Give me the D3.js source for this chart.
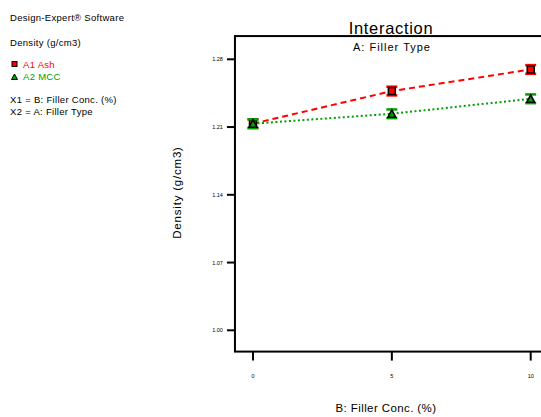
<!DOCTYPE html>
<html>
<head>
<meta charset="utf-8">
<style>
  body { margin: 0; background: #fff; }
  svg { font-family: "Liberation Sans", Arial, sans-serif; }
</style>
</head>
<body>
<script src="https://cdn.jsdelivr.net/npm/d3@7/dist/d3.min.js"></script>
<script>
  const levels = [0, 5, 10];
  const ash = [1.2135, 1.2472, 1.2695];
  const mcc = [1.2135, 1.2237, 1.2392];
  const errAsh = [0.0045, 0.0045, 0.0045];
  const errMcc = [0.0045, 0.0045, 0.0045];
  const yTicks = [1.00, 1.07, 1.14, 1.21, 1.28];
  const xTicks = [0, 5, 10];

  const width = 541, height = 417;
  const svg = d3.select("body").append("svg")
    .attr("width", width).attr("height", height);

  // scales (frame edges are slightly outside the data range)
  const x = d3.scaleLinear().domain([0, 10]).range([253, 530.7]);
  const y = d3.scaleLinear().domain([1.00, 1.28]).range([330.3, 59.3]);

  const fLeft = x(-0.65), fRight = x(10.65), fTop = y(1.304), fBottom = y(0.978);

  // left info panel
  const info = svg.append("g").attr("font-size", "9.5px").attr("letter-spacing", "0.3px");
  info.append("text").attr("x", 10).attr("y", 20.5).text("Design-Expert\u00ae Software");
  info.append("text").attr("x", 10).attr("y", 45.5).text("Density (g/cm3)");
  info.append("rect").attr("x", 12).attr("y", 61.5).attr("width", 5).attr("height", 5)
    .attr("fill", "red").attr("stroke", "#000").attr("stroke-width", 1);
  info.append("text").attr("x", 23).attr("y", 67.5).attr("fill", "red").text("A1 Ash");
  info.append("path").attr("d", "M14.5,74 L17.5,79.5 L11.5,79.5 Z")
    .attr("fill", "#00a000").attr("stroke", "#000").attr("stroke-width", 1);
  info.append("text").attr("x", 23).attr("y", 80).attr("fill", "#00a000").text("A2 MCC");
  info.append("text").attr("x", 10).attr("y", 102.5).text("X1 = B: Filler Conc. (%)");
  info.append("text").attr("x", 10).attr("y", 114.5).text("X2 = A: Filler Type");

  // frame
  svg.append("rect")
    .attr("x", fLeft).attr("y", fTop)
    .attr("width", fRight - fLeft).attr("height", fBottom - fTop)
    .attr("fill", "none").attr("stroke", "#000").attr("stroke-width", 2);

  // y axis ticks
  const ya = svg.append("g");
  ya.selectAll("line").data(yTicks).enter().append("line")
    .attr("x1", fLeft - 8).attr("x2", fLeft)
    .attr("y1", d => y(d)).attr("y2", d => y(d))
    .attr("stroke", "#000").attr("stroke-width", 2);
  ya.selectAll("text").data(yTicks).enter().append("text")
    .attr("x", fLeft - 12).attr("y", d => y(d) + 2)
    .attr("text-anchor", "end").attr("font-size", "5.5px")
    .text(d => d.toFixed(2));

  // x axis ticks
  const xa = svg.append("g");
  xa.selectAll("line").data(xTicks).enter().append("line")
    .attr("x1", d => x(d)).attr("x2", d => x(d))
    .attr("y1", fBottom).attr("y2", fBottom + 9)
    .attr("stroke", "#000").attr("stroke-width", 2);
  xa.selectAll("text").data(xTicks).enter().append("text")
    .attr("x", d => x(d)).attr("y", fBottom + 26.5)
    .attr("text-anchor", "middle").attr("font-size", "5.5px")
    .text(d => d);

  // titles
  svg.append("text").attr("x", 391).attr("y", 33.5).attr("text-anchor", "middle")
    .attr("font-size", "16.5px").attr("letter-spacing", "0.7px").text("Interaction");
  svg.append("text").attr("x", 392).attr("y", 50.5).attr("text-anchor", "middle")
    .attr("font-size", "11px").attr("letter-spacing", "1px").text("A: Filler Type");
  svg.append("text").attr("x", 386).attr("y", 412).attr("text-anchor", "middle")
    .attr("font-size", "11.5px").attr("letter-spacing", "0.4px").text("B: Filler Conc. (%)");
  svg.append("text").attr("transform", "translate(181,192.5) rotate(-90)")
    .attr("text-anchor", "middle").attr("font-size", "11.5px").attr("letter-spacing", "0.8px")
    .text("Density (g/cm3)");

  const series = [
    { name: "A1 Ash", vals: ash, err: errAsh, color: "red", dash: "6,4", shape: "square" },
    { name: "A2 MCC", vals: mcc, err: errMcc, color: "#00a000", dash: "2,2.5", shape: "triangle" }
  ];

  const line = d3.line().x(d => x(d[0])).y(d => y(d[1]));

  series.forEach(s => {
    const pts = levels.map((l, i) => [l, s.vals[i], s.err[i]]);
    const g = svg.append("g");
    g.append("path").datum(pts).attr("d", line)
      .attr("fill", "none").attr("stroke", s.color)
      .attr("stroke-width", 2).attr("stroke-dasharray", s.dash);

    // error bars
    g.selectAll("line.v").data(pts).enter().append("line")
      .attr("x1", d => x(d[0])).attr("x2", d => x(d[0]))
      .attr("y1", d => y(d[1] - d[2])).attr("y2", d => y(d[1] + d[2]))
      .attr("stroke", s.color).attr("stroke-width", 2);
    [1, -1].forEach(sg => {
      g.selectAll(null).data(pts).enter().append("line")
        .attr("x1", d => x(d[0]) - 5.5).attr("x2", d => x(d[0]) + 5.5)
        .attr("y1", d => y(d[1] + sg * d[2])).attr("y2", d => y(d[1] + sg * d[2]))
        .attr("stroke", s.color).attr("stroke-width", 2.5);
    });

    // markers
    if (s.shape === "square") {
      g.selectAll("rect").data(pts).enter().append("rect")
        .attr("x", d => x(d[0]) - 3.5).attr("y", d => y(d[1]) - 3.5)
        .attr("width", 7).attr("height", 7)
        .attr("fill", s.color).attr("stroke", "#000").attr("stroke-width", 1.5);
    } else {
      g.selectAll("path.m").data(pts).enter().append("path")
        .attr("d", d => {
          const cx = x(d[0]), cy = y(d[1]);
          return `M${cx},${cy - 4} L${cx + 4},${cy + 3.5} L${cx - 4},${cy + 3.5} Z`;
        })
        .attr("fill", s.color).attr("stroke", "#000").attr("stroke-width", 1.5);
    }
  });
</script>
</body>
</html>
